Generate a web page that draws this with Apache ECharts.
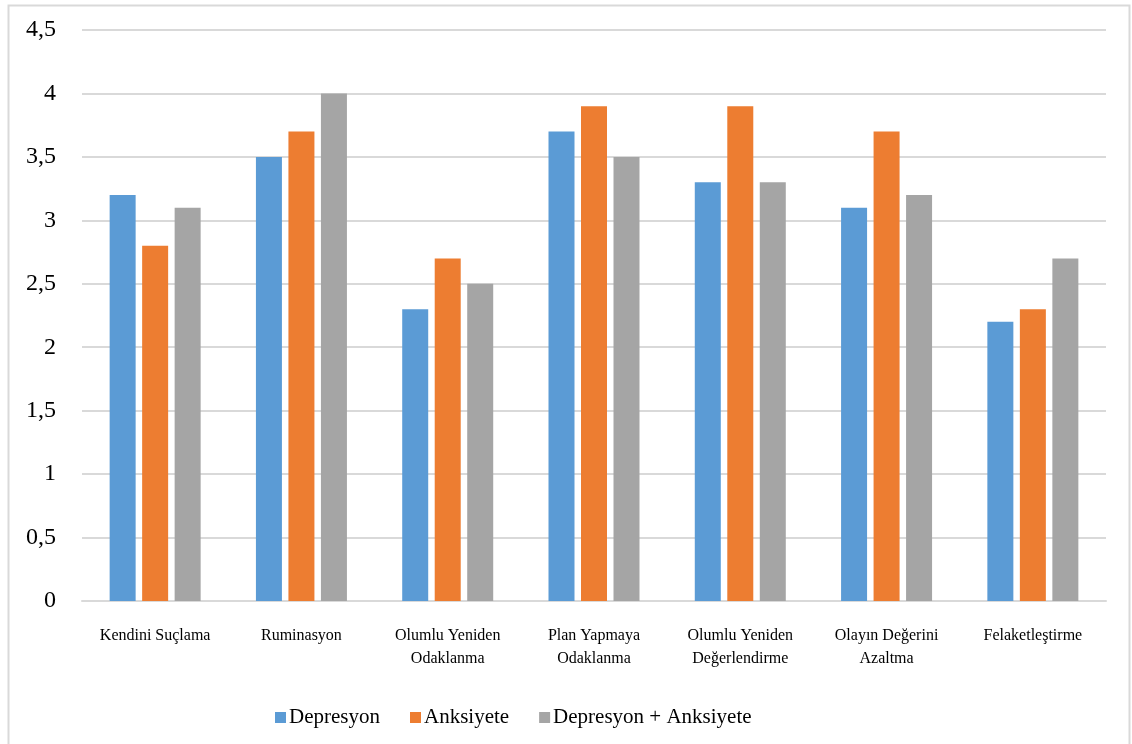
<!DOCTYPE html>
<html><head><meta charset="utf-8">
<script src="https://cdn.jsdelivr.net/npm/echarts@6/dist/echarts.min.js"></script>
<style>html,body{margin:0;padding:0;background:#fff}#c{width:1132px;height:744px}</style>
</head><body><div id="c"></div>
<script>
var categories = ['Kendini Suçlama','Ruminasyon','Olumlu Yeniden\nOdaklanma','Plan Yapmaya\nOdaklanma','Olumlu Yeniden\nDeğerlendirme','Olayın Değerini\nAzaltma','Felaketleştirme'];
var seriesNames = ['Depresyon','Anksiyete','Depresyon + Anksiyete'];
var depresyon = [3.2,3.5,2.3,3.7,3.3,3.1,2.2];
var anksiyete = [2.8,3.7,2.7,3.9,3.9,3.7,2.3];
var ikisi = [3.1,4.0,2.5,3.5,3.3,3.2,2.7];
var colors = ['#5B9BD5','#ED7D31','#A5A5A5'];
var font = '"Liberation Serif","Times New Roman",serif';
var chart = echarts.init(document.getElementById('c'));
function mk(name, data, i){
  return {name:name,type:'bar',data:data,barWidth:26,barGap:'25%',
    itemStyle:{color:colors[i]}, emphasis:{disabled:true}};
}
chart.setOption({
  animation:false,
  color:colors,
  graphic:[{type:'rect',shape:{x:8.5,y:5.5,width:1121,height:745},style:{fill:'none',stroke:'#d9d9d9',lineWidth:2},silent:true}],
  grid:{left:82,right:26,top:30,bottom:143,containLabel:false},
  legend:{top:702,left:270,itemWidth:11,itemHeight:11,itemGap:30,icon:'rect',
    textStyle:{fontFamily:font,fontSize:21,color:'#000',padding:[0,0,0,-2]}},
  xAxis:{type:'category',data:categories,
    axisLine:{lineStyle:{color:'#d9d9d9',width:2}},axisTick:{show:false},
    axisLabel:{fontFamily:font,fontSize:16,color:'#000',margin:23,lineHeight:23,interval:0}},
  yAxis:{type:'value',min:0,max:4.5,interval:0.5,
    axisLine:{show:false},axisTick:{show:false},
    splitLine:{lineStyle:{color:'#d9d9d9',width:2}},
    axisLabel:{fontFamily:font,fontSize:24,color:'#000',margin:26,
      formatter:function(v){return String(v).replace('.',',');}}},
  series:[mk(seriesNames[0],depresyon,0),mk(seriesNames[1],anksiyete,1),mk(seriesNames[2],ikisi,2)]
});
</script></body></html>
